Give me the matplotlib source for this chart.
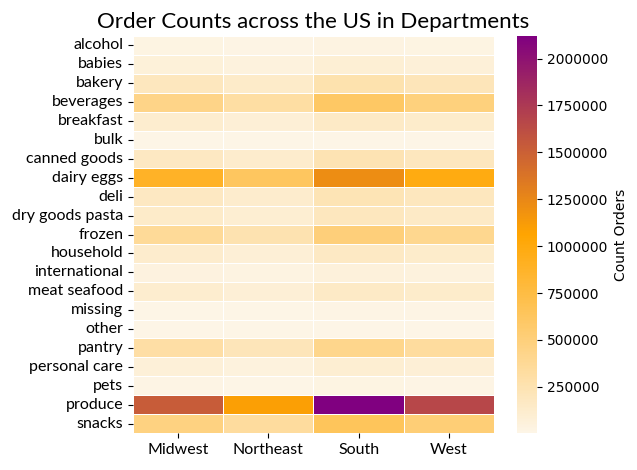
import numpy as np
import pandas as pd
import matplotlib
matplotlib.use("Agg")
import matplotlib.pyplot as plt
import seaborn as sns
from matplotlib.colors import LinearSegmentedColormap
from matplotlib.ticker import MultipleLocator, FormatStrFormatter

departments = ["alcohol", "babies", "bakery", "beverages", "breakfast", "bulk",
               "canned goods", "dairy eggs", "deli", "dry goods pasta", "frozen",
               "household", "international", "meat seafood", "missing", "other",
               "pantry", "personal care", "pets", "produce", "snacks"]
regions = ["Midwest", "Northeast", "South", "West"]

# order counts per department
midwest = [25100, 69200, 192200, 439300, 115900, 5600, 174400, 884100, 171700,
           141500, 365200, 120600, 44000, 115800, 11300, 5900, 306300, 73000,
           16000, 1530000, 471600]
northeast = [17900, 49300, 136900, 312900, 82500, 4000, 124200, 629800, 122300,
             100800, 260200, 85900, 31300, 82500, 8000, 4200, 218200, 52000,
             11400, 1102700, 335900]
south = [34400, 94800, 263200, 601800, 158700, 7700, 238900, 1211100, 235200,
         193900, 500300, 165200, 60200, 158600, 15500, 8100, 419600, 100000,
         21900, 2120500, 646000]
west = [27900, 76800, 213200, 487500, 128600, 6300, 193500, 981000, 190500,
        157000, 405200, 133800, 48800, 128500, 12500, 6600, 339900, 81000,
        17700, 1660000, 523200]

df = pd.DataFrame({"Midwest": midwest, "Northeast": northeast,
                   "South": south, "West": west}, index=departments)

cmap = LinearSegmentedColormap.from_list("lace_orange_purple",
                                         ["oldlace", "orange", "purple"])

fig = plt.figure(figsize=(6.37, 4.7), dpi=100)
ax = fig.add_axes([0.2088, 0.0787, 0.5667, 0.8447])
cax = fig.add_axes([0.8116, 0.0787, 0.0314, 0.8447])

sns.heatmap(df, cmap=cmap, linewidths=0.5, linecolor="white", ax=ax,
            cbar_ax=cax, cbar_kws={"label": "Count Orders"})

label_font = ["Lato", "DejaVu Sans"]
ax.set_title("Order Counts across the US in Departments", fontsize=16,
             family=label_font)
ax.set_xlabel("")
ax.set_ylabel("")
ax.set_yticks(np.arange(len(departments)) + 0.5)
ax.set_yticklabels(departments, rotation=0, fontsize=11.5, family=label_font)
ax.set_xticks(np.arange(len(regions)) + 0.5)
ax.set_xticklabels(regions, rotation=0, fontsize=11.5, family=label_font)

cax.yaxis.set_major_locator(MultipleLocator(250000))
cax.yaxis.set_major_formatter(FormatStrFormatter("%d"))
cax.tick_params(labelsize=10)
cax.yaxis.label.set_size(10)

fig.savefig("out.png", dpi=100)
